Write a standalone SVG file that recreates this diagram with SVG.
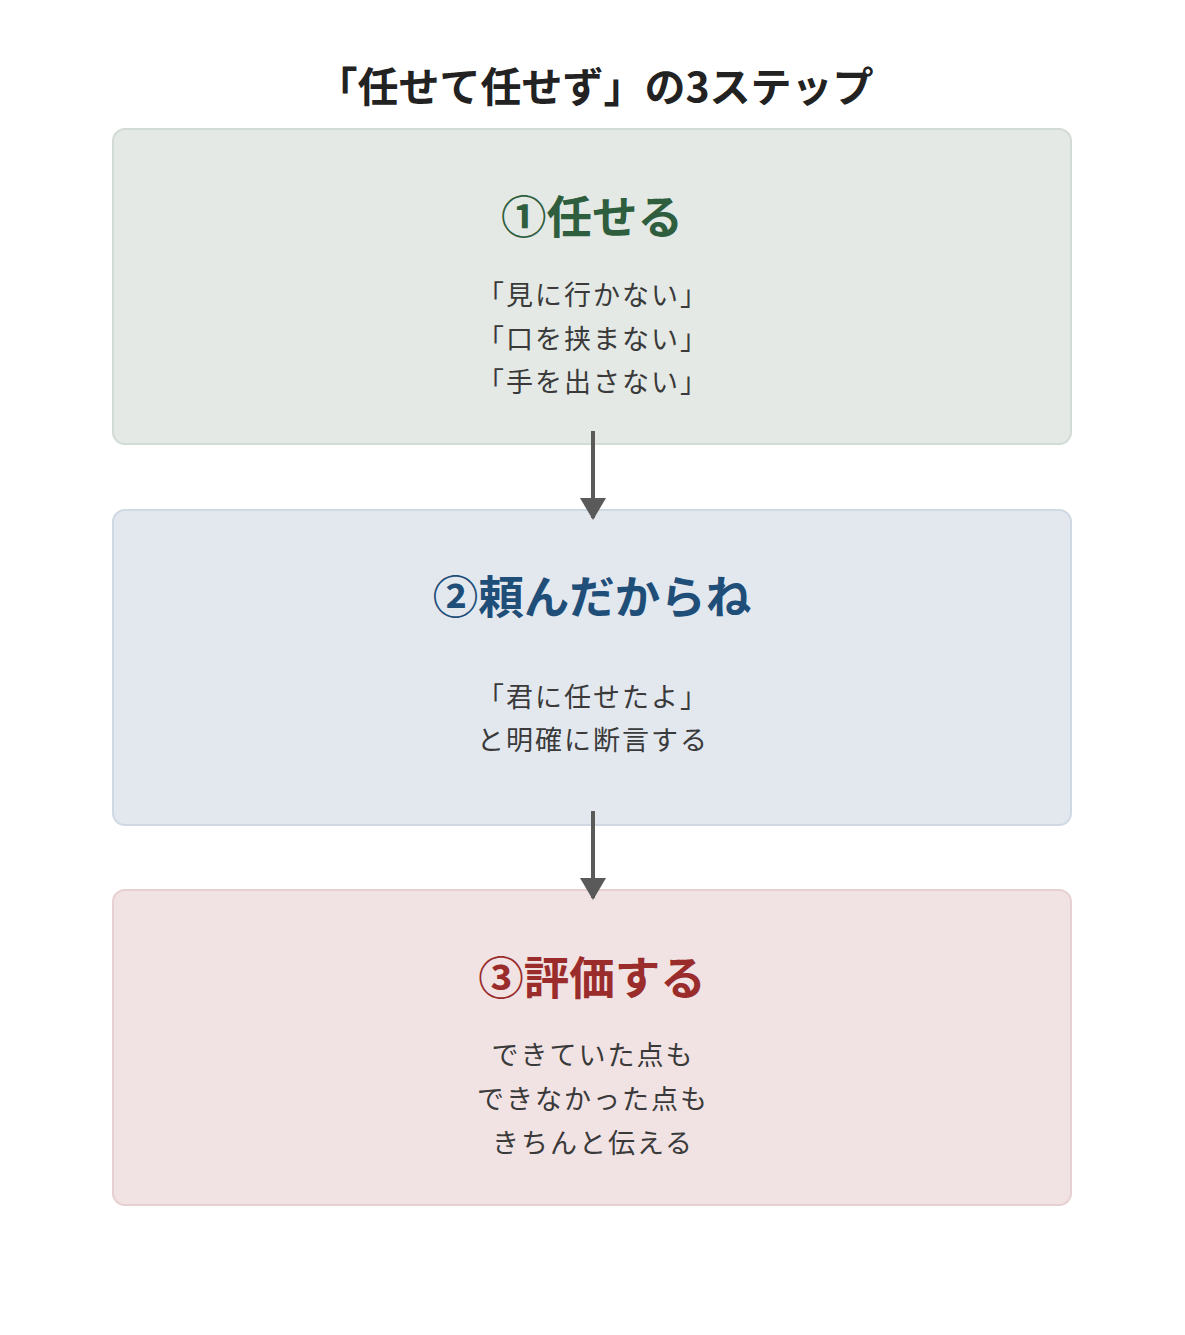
<svg xmlns="http://www.w3.org/2000/svg" width="1185" height="1335" viewBox="0 0 1185 1335">
<defs>
<style>
text{font-family:"Noto Sans CJK JP","Noto Sans",sans-serif;text-anchor:middle}
.title{font-size:41px;font-weight:700;fill:#222}
.head{font-size:45.5px;font-weight:700}
.body{font-size:27px;fill:#3a3a3a;letter-spacing:2px}
.box{stroke-width:2}
.conn{stroke:#5a5a5a;stroke-width:4;fill:none}
</style>
<marker id="ah" viewBox="0 0 22 26" refX="20" refY="13" markerWidth="22" markerHeight="26" markerUnits="userSpaceOnUse" orient="auto">
<path d="M0,0 L22,13 L0,26 Z" fill="#5a5a5a"/>
</marker>
</defs>
<rect width="1185" height="1335" fill="#ffffff"/>
<text class="title" x="595" y="102">「任せて任せず」の3ステップ</text>
<g id="step1">
<rect class="box" x="113" y="129" width="958" height="315" rx="12" fill="#e4e9e5" stroke="#d3dbd5"/>
<text class="head" x="592" y="234" fill="#2e5e3e">①任せる</text>
<text class="body" x="593" y="305">「見に行かない」</text>
<text class="body" x="593" y="349">「口を挟まない」</text>
<text class="body" x="593" y="392">「手を出さない」</text>
</g>
<g id="step2">
<rect class="box" x="113" y="510" width="958" height="315" rx="12" fill="#e3e8ef" stroke="#d0d9e3"/>
<text class="head" x="592" y="614" fill="#1f4e79">②頼んだからね</text>
<text class="body" x="593" y="707">「君に任せたよ」</text>
<text class="body" x="593" y="750">と明確に断言する</text>
</g>
<g id="step3">
<rect class="box" x="113" y="890" width="958" height="315" rx="12" fill="#f1e3e4" stroke="#e6d0d2"/>
<text class="head" x="592" y="995" fill="#9b2c2c">③評価する</text>
<text class="body" x="593" y="1065">できていた点も</text>
<text class="body" x="593" y="1109">できなかった点も</text>
<text class="body" x="593" y="1153">きちんと伝える</text>
</g>
<g id="connectors">
<line class="conn" x1="593" y1="431" x2="593" y2="518" marker-end="url(#ah)"/>
<line class="conn" x1="593" y1="811" x2="593" y2="898" marker-end="url(#ah)"/>
</g>
</svg>
